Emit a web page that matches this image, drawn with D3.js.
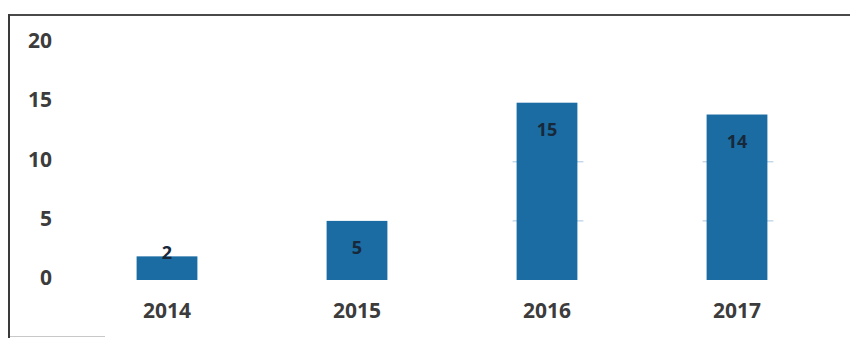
<!DOCTYPE html>
<html>
<head>
<meta charset="utf-8">
<script src="https://cdn.jsdelivr.net/npm/d3@7"></script>
<style>
html,body{margin:0;padding:0;background:#fff;}
svg{display:block;}
</style>
</head>
<body>
<svg id="chart" width="850" height="338"></svg>
<script>
const categories = ["2014", "2015", "2016", "2017"];
const values = [2, 5, 15, 14];
const yTicks = [0, 5, 10, 15, 20];

const svg = d3.select("#chart");
const W = 850, H = 338;

const x = d3.scaleBand().domain(categories).range([72, 832])
  .paddingInner(0.68).paddingOuter(0.34);
const y = d3.scaleLinear().domain([0, 20]).range([280, 43.6]);

// frame (scanned box: top and left edges)
svg.append("line").attr("x1", 9).attr("x2", W).attr("y1", 15).attr("y2", 15)
  .attr("stroke", "#4a4a4a").attr("stroke-width", 2);
svg.append("line").attr("x1", 9).attr("x2", 9).attr("y1", 14).attr("y2", H)
  .attr("stroke", "#3a3a3a").attr("stroke-width", 2);
svg.append("line").attr("x1", 10).attr("x2", 105).attr("y1", 336.5).attr("y2", 336.5)
  .attr("stroke", "#c8c8c8").attr("stroke-width", 1);

// y axis labels
const yAxis = d3.axisLeft(y).tickValues(yTicks).tickSize(0).tickPadding(0);
const ya = svg.append("g").attr("transform", "translate(52,0)").call(yAxis);
ya.select(".domain").remove();
ya.selectAll("text")
  .attr("font-family", "'Open Sans', 'Liberation Sans', sans-serif")
  .attr("font-weight", "bold").attr("font-size", 21).attr("fill", "#3c3c3c")
  .attr("dy", "0.2em");

// faint gridline remnants near bars
const gridVals = yTicks.filter(v => v > 0 && v < 20);
categories.forEach((c, i) => {
  gridVals.filter(v => v < values[i]).forEach(v => {
    svg.append("line")
      .attr("x1", x(c) - 4).attr("x2", x(c) + x.bandwidth() + 6)
      .attr("y1", y(v)).attr("y2", y(v))
      .attr("stroke", "#a9c6de").attr("stroke-width", 1);
  });
});

// bars
svg.append("g").selectAll("rect").data(values).join("rect")
  .attr("x", (d, i) => x(categories[i]))
  .attr("y", d => y(d))
  .attr("width", x.bandwidth())
  .attr("height", d => y(0) - y(d))
  .attr("fill", "#1b6ca3");

// x axis labels
const xAxis = d3.axisBottom(x).tickSize(0).tickPadding(0);
const xa = svg.append("g").attr("transform", "translate(0,311)").call(xAxis);
xa.select(".domain").remove();
xa.selectAll("text")
  .attr("font-family", "'Open Sans', 'Liberation Sans', sans-serif")
  .attr("font-weight", "bold").attr("font-size", 21).attr("fill", "#3c3c3c")
  .attr("dy", "0.35em").attr("y", 0);

// data labels
svg.append("g").selectAll("text").data(values).join("text")
  .attr("x", (d, i) => x(categories[i]) + x.bandwidth() / 2)
  .attr("y", d => (y(0) - y(d) > 40) ? y(d) + 27 : y(d) - 4)
  .attr("dy", "0.35em")
  .attr("text-anchor", "middle")
  .attr("font-family", "'Open Sans', 'Liberation Sans', sans-serif")
  .attr("font-weight", "bold").attr("font-size", 18).attr("fill", "#17283a")
  .text(d => d);
</script>
</body>
</html>
